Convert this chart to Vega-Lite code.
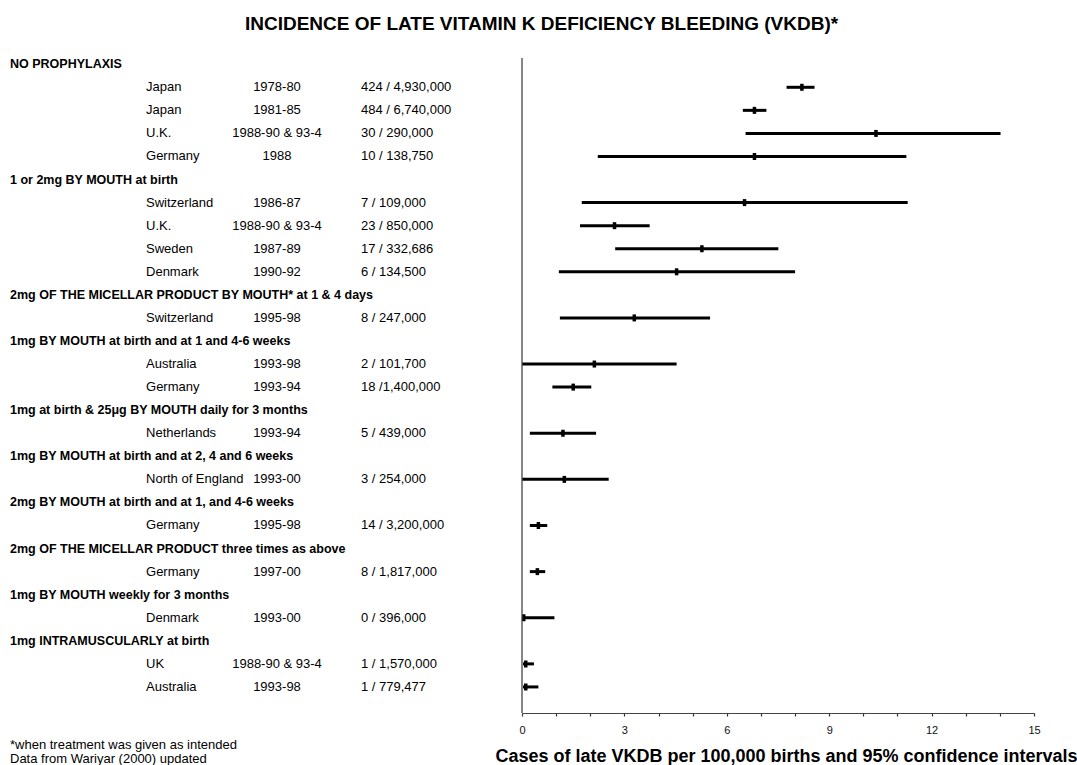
{
  "$schema": "https://vega.github.io/schema/vega-lite/v6.json",
  "padding": {"left": 0, "top": 15, "right": 0, "bottom": 0},
  "bounds": "flush",
  "spacing": 2,
  "title": {"text": "INCIDENCE OF LATE VITAMIN K DEFICIENCY BLEEDING (VKDB)*", "fontSize": 19, "fontWeight": "bold", "anchor": "middle", "offset": 23, "dx": 3, "color": "#000"},
  "config": {"font": "Liberation Sans", "view": {"stroke": null}},
  "datasets": {
    "rows": [
      {"i": 1, "kind": "group", "label": "NO PROPHYLAXIS"},
      {"i": 2, "kind": "study", "country": "Japan", "years": "1978-80", "cases": "424 / 4,930,000", "est": 8.2, "lo": 7.75, "hi": 8.57},
      {"i": 3, "kind": "study", "country": "Japan", "years": "1981-85", "cases": "484 / 6,740,000", "est": 6.81, "lo": 6.47, "hi": 7.16},
      {"i": 4, "kind": "study", "country": "U.K.", "years": "1988-90 & 93-4", "cases": "30 / 290,000", "est": 10.37, "lo": 6.55, "hi": 14.02},
      {"i": 5, "kind": "study", "country": "Germany", "years": "1988", "cases": "10 / 138,750", "est": 6.81, "lo": 2.22, "hi": 11.26},
      {"i": 6, "kind": "group", "label": "1 or 2mg BY MOUTH at birth"},
      {"i": 7, "kind": "study", "country": "Switzerland", "years": "1986-87", "cases": "7 / 109,000", "est": 6.52, "lo": 1.75, "hi": 11.3},
      {"i": 8, "kind": "study", "country": "U.K.", "years": "1988-90 & 93-4", "cases": "23 / 850,000", "est": 2.71, "lo": 1.7, "hi": 3.74},
      {"i": 9, "kind": "study", "country": "Sweden", "years": "1987-89", "cases": "17 / 332,686", "est": 5.27, "lo": 2.73, "hi": 7.51},
      {"i": 10, "kind": "study", "country": "Denmark", "years": "1990-92", "cases": "6 / 134,500", "est": 4.53, "lo": 1.08, "hi": 8.0},
      {"i": 11, "kind": "group", "label": "2mg OF THE MICELLAR PRODUCT BY MOUTH* at 1 & 4 days"},
      {"i": 12, "kind": "study", "country": "Switzerland", "years": "1995-98", "cases": "8 / 247,000", "est": 3.29, "lo": 1.11, "hi": 5.51},
      {"i": 13, "kind": "group", "label": "1mg BY MOUTH at birth and at 1 and 4-6 weeks"},
      {"i": 14, "kind": "study", "country": "Australia", "years": "1993-98", "cases": "2 / 101,700", "est": 2.12, "lo": 0, "hi": 4.53},
      {"i": 15, "kind": "study", "country": "Germany", "years": "1993-94", "cases": "18 /1,400,000", "est": 1.5, "lo": 0.89, "hi": 2.03},
      {"i": 16, "kind": "group", "label": "1mg  at birth & 25μg BY MOUTH daily for 3 months"},
      {"i": 17, "kind": "study", "country": "Netherlands", "years": "1993-94", "cases": "5 / 439,000", "est": 1.2, "lo": 0.23, "hi": 2.17},
      {"i": 18, "kind": "group", "label": "1mg BY MOUTH at birth and at 2, 4 and 6 weeks"},
      {"i": 19, "kind": "study", "country": "North of England", "years": "1993-00", "cases": "3 / 254,000", "est": 1.24, "lo": 0, "hi": 2.54},
      {"i": 20, "kind": "group", "label": "2mg BY MOUTH at birth and at 1, and 4-6 weeks"},
      {"i": 21, "kind": "study", "country": "Germany", "years": "1995-98", "cases": "14 / 3,200,000", "est": 0.48, "lo": 0.23, "hi": 0.74},
      {"i": 22, "kind": "group", "label": "2mg OF THE MICELLAR PRODUCT three times as above"},
      {"i": 23, "kind": "study", "country": "Germany", "years": "1997-00", "cases": "8 / 1,817,000", "est": 0.45, "lo": 0.23, "hi": 0.68},
      {"i": 24, "kind": "group", "label": "1mg BY MOUTH weekly for 3 months"},
      {"i": 25, "kind": "study", "country": "Denmark", "years": "1993-00", "cases": "0 / 396,000", "est": 0.05, "lo": 0, "hi": 0.95},
      {"i": 26, "kind": "group", "label": "1mg INTRAMUSCULARLY at birth"},
      {"i": 27, "kind": "study", "country": "UK", "years": "1988-90 & 93-4", "cases": "1 / 1,570,000", "est": 0.11, "lo": 0.03, "hi": 0.35},
      {"i": 28, "kind": "study", "country": "Australia", "years": "1993-98", "cases": "1 / 779,477", "est": 0.11, "lo": 0.03, "hi": 0.48}
    ]
  },
  "hconcat": [
    {
      "width": 520,
      "height": 655,
      "data": {"name": "rows"},
      "title": {"text": ["*when treatment was given as intended", " Data from Wariyar (2000) updated"], "orient": "bottom", "anchor": "start", "fontSize": 13, "fontWeight": "normal", "lineHeight": 14, "offset": 26, "dx": 10, "color": "#000"},
      "encoding": {
        "y": {"field": "i", "type": "quantitative", "scale": {"domain": [0.73, 29.13], "reverse": true, "nice": false, "zero": false}, "axis": null}
      },
      "layer": [
        {
          "transform": [{"filter": "datum.kind === 'group'"}],
          "mark": {"type": "text", "align": "left", "baseline": "middle", "fontSize": 12.5, "fontWeight": "bold", "color": "#000"},
          "encoding": {
            "x": {"datum": 1.92, "type": "quantitative", "scale": {"domain": [0, 100], "nice": false, "zero": false}, "axis": null},
            "text": {"field": "label"}
          }
        },
        {
          "transform": [{"filter": "datum.kind === 'study'"}],
          "mark": {"type": "text", "align": "left", "baseline": "middle", "fontSize": 13, "color": "#000"},
          "encoding": {
            "x": {"datum": 28.08, "type": "quantitative", "scale": {"domain": [0, 100], "nice": false, "zero": false}, "axis": null},
            "text": {"field": "country"}
          }
        },
        {
          "transform": [{"filter": "datum.kind === 'study'"}],
          "mark": {"type": "text", "align": "center", "baseline": "middle", "fontSize": 13, "color": "#000"},
          "encoding": {
            "x": {"datum": 53.27, "type": "quantitative", "scale": {"domain": [0, 100], "nice": false, "zero": false}, "axis": null},
            "text": {"field": "years"}
          }
        },
        {
          "transform": [{"filter": "datum.kind === 'study'"}],
          "mark": {"type": "text", "align": "left", "baseline": "middle", "fontSize": 13, "color": "#000"},
          "encoding": {
            "x": {"datum": 69.42, "type": "quantitative", "scale": {"domain": [0, 100], "nice": false, "zero": false}, "axis": null},
            "text": {"field": "cases"}
          }
        }
      ]
    },
    {
      "width": 512,
      "height": 655,
      "data": {"name": "rows"},
      "encoding": {
        "y": {"field": "i", "type": "quantitative", "scale": {"domain": [0.73, 29.13], "reverse": true, "nice": false, "zero": false}, "axis": null}
      },
      "layer": [
        {
          "transform": [{"filter": "datum.kind === 'study'"}],
          "mark": {"type": "rule", "color": "#000", "strokeWidth": 3},
          "encoding": {
            "x": {"field": "lo", "type": "quantitative", "title": "Cases of late VKDB per 100,000 births and 95% confidence intervals",
              "scale": {"domain": [0, 15], "nice": false, "zero": false},
              "axis": {"values": [0, 1, 2, 3, 4, 5, 6, 7, 8, 9, 10, 11, 12, 13, 14, 15], "tickCount": 20, "labelExpr": "datum.value % 3 === 0 ? datum.label : ''", "labelOverlap": false, "grid": false, "tickSize": 3, "tickColor": "#333", "tickWidth": 1.2, "domainColor": "#444", "domainWidth": 1.2, "labelFontSize": 11, "labelColor": "#111", "labelPadding": 8, "labelFlush": false, "titleFontSize": 18, "titleFontWeight": "bold", "titleColor": "#000", "titlePadding": 12, "titleX": 264}},
            "x2": {"field": "hi"}
          }
        },
        {
          "transform": [{"filter": "datum.kind === 'study'"}],
          "mark": {"type": "tick", "orient": "vertical", "color": "#000", "size": 7, "thickness": 3.5, "opacity": 1},
          "encoding": {
            "x": {"field": "est", "type": "quantitative", "title": "Cases of late VKDB per 100,000 births and 95% confidence intervals"}
          }
        },
        {
          "data": {"values": [{}]},
          "mark": {"type": "rule", "color": "#444", "strokeWidth": 1.3},
          "encoding": {
            "x": {"datum": 0, "title": "Cases of late VKDB per 100,000 births and 95% confidence intervals"},
            "y": null
          }
        }
      ]
    }
  ]
}
